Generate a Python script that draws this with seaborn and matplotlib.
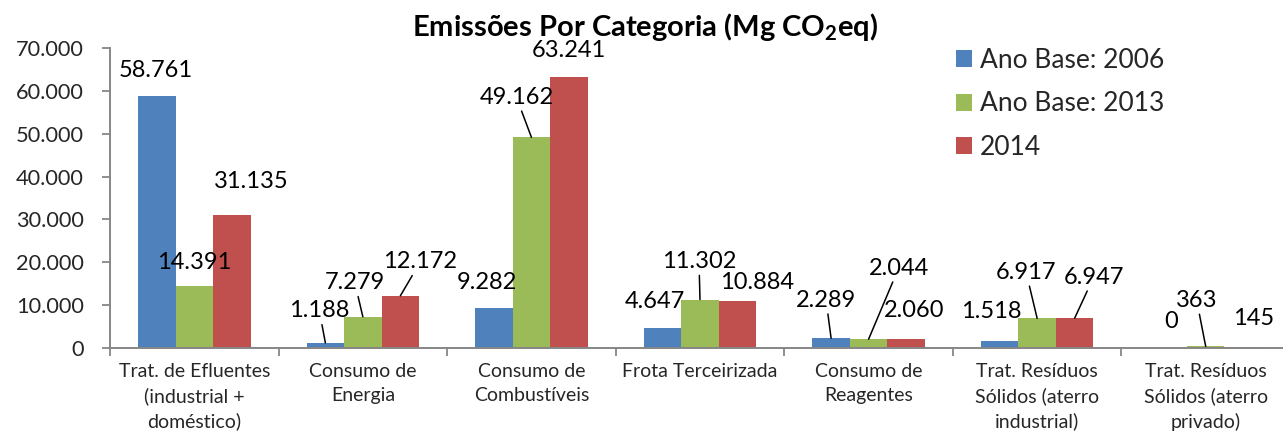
import matplotlib
matplotlib.use("Agg")
import matplotlib.pyplot as plt
import matplotlib.patches as mpatches
import numpy as np
import pandas as pd
import seaborn as sns

# ---------------- data ----------------
categories = [
    "Trat. de Efluentes\n(industrial +\ndoméstico)",
    "Consumo de\nEnergia",
    "Consumo de\nCombustíveis",
    "Frota Terceirizada",
    "Consumo de\nReagentes",
    "Trat. Resíduos\nSólidos (aterro\nindustrial)",
    "Trat. Resíduos\nSólidos (aterro\nprivado)",
]
series_names = ["Ano Base: 2006", "Ano Base: 2013", "2014"]
ano_2006 = [58761, 1188, 9282, 4647, 2289, 1518, 0]
ano_2013 = [14391, 7279, 49162, 11302, 2044, 6917, 363]
ano_2014 = [31135, 12172, 63241, 10884, 2060, 6947, 145]
y_ticks = [0, 10000, 20000, 30000, 40000, 50000, 60000, 70000]
title_text = r"Emissões Por Categoria (Mg CO$_{\mathbf{2}}$eq)"

# ---------------- styling / label placement ----------------
colors = ["#4F81BD", "#9BBB59", "#C0504D"]
# label offsets (pixels) from each bar's top centre, and whether a leader line is drawn
offsets_2006 = [(-1, 26), (-6, 32), (-7, 26), (-8, 27), (-5, 38), (-8, 30), (3, 26)]
offsets_2013 = [(0, 24), (-8, 34), (-15, 40), (-1, 38), (30, 71), (-11, 46), (-9, 46)]
offsets_2014 = [(19, 33), (20, 34), (0, 26), (20, 19), (8, 29), (19, 41), (10, 29)]
leader_2006 = [False, True, False, False, True, False, False]
leader_2013 = [False, True, True, True, True, True, True]
leader_2014 = [False, True, False, False, False, True, False]

sns.set_theme(style="white")
plt.rcParams["font.family"] = ["Lato", "DejaVu Sans"]
plt.rcParams["mathtext.fontset"] = "custom"
plt.rcParams["mathtext.rm"] = "Lato"
plt.rcParams["mathtext.bf"] = "Lato:bold"
plt.rcParams["mathtext.default"] = "bf"

W, H = 1283, 434
fig = plt.figure(figsize=(W / 100, H / 100), dpi=100)
fig.patch.set_facecolor("white")

ax_left, ax_right, ax_bottom, ax_top = 110, 1290, 348, 48
ax = fig.add_axes([ax_left / W, 1 - ax_bottom / H, (ax_right - ax_left) / W, (ax_bottom - ax_top) / H])
ax.set_facecolor("white")

df = pd.DataFrame({
    "cat": categories * 3,
    "serie": [series_names[0]] * 7 + [series_names[1]] * 7 + [series_names[2]] * 7,
    "valor": ano_2006 + ano_2013 + ano_2014,
})

sns.barplot(data=df, x="cat", y="valor", hue="serie", order=categories,
            hue_order=series_names, palette=colors, width=0.667, gap=0,
            errorbar=None, saturation=1, linewidth=0, ax=ax, legend=False)

ax.set_xlim(-0.5, len(categories) - 0.5)
ax.set_ylim(0, 70000)
ax.set_xlabel("")
ax.set_ylabel("")

# y axis
ax.set_yticks(y_ticks)
ax.set_yticklabels([f"{v:,}".replace(",", ".") for v in y_ticks], fontsize=15.7)
ax.tick_params(axis="y", direction="out", length=6, width=1.3, color="#868686", pad=13, left=True)

# x axis: major ticks at boundaries, labels at centres
ax.set_xticks(np.arange(-0.5, len(categories) + 0.5, 1.0))
ax.set_xticklabels([])
ax.set_xticks(np.arange(len(categories)), minor=True)
ax.set_xticklabels(categories, minor=True, fontsize=14, linespacing=1.5)
ax.tick_params(axis="x", which="major", direction="out", length=6, width=1.3, color="#868686", bottom=True)
ax.tick_params(axis="x", which="minor", length=0, pad=10.5)

for s in ["top", "right"]:
    ax.spines[s].set_visible(False)
for s in ["left", "bottom"]:
    ax.spines[s].set_color("#868686")
    ax.spines[s].set_linewidth(1.4)
ax.grid(False)

# data labels
offsets = [offsets_2006, offsets_2013, offsets_2014]
leaders = [leader_2006, leader_2013, leader_2014]
for j, cont in enumerate(ax.containers):
    for i, rect in enumerate(cont):
        xc = rect.get_x() + rect.get_width() / 2
        h = rect.get_height()
        txt = f"{int(round(h)):,}".replace(",", ".")
        dx, dy = offsets[j][i]
        ap = dict(arrowstyle="-", color="black", lw=1.1, shrinkA=0, shrinkB=0) if leaders[j][i] else None
        ax.annotate(txt, xy=(xc, h), xytext=(dx, dy), textcoords="offset pixels",
                    ha="center", va="center", fontsize=17, color="black",
                    arrowprops=ap, annotation_clip=False)

# legend
handles = [mpatches.Patch(facecolor=c, edgecolor="none", label=n) for c, n in zip(colors, series_names)]
fig.legend(handles=handles, loc="upper left", bbox_to_anchor=(956 / W, 1 - 48 / H),
           frameon=False, fontsize=19, handlelength=0.6, handleheight=0.6,
           handletextpad=0.3, labelspacing=0.7, borderpad=0, borderaxespad=0)

# title
fig.text(645 / W, 1 - 27 / H, title_text, ha="center", va="center",
         fontsize=21, fontweight="bold", color="black")

fig.savefig("out.png", dpi=100, facecolor="white")
